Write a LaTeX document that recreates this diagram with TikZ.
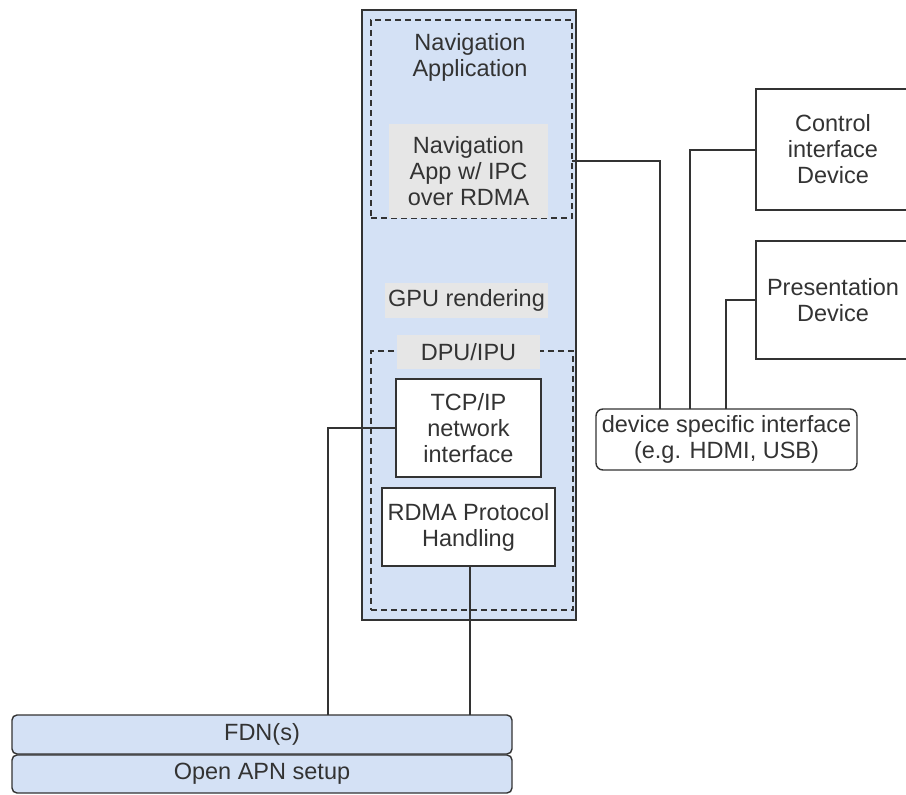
\documentclass[tikz,border=0pt]{standalone}
\usepackage{fontspec}
\setmainfont{Liberation Sans}
\usetikzlibrary{calc}
\definecolor{bluefill}{HTML}{D4E1F5}
\definecolor{grayfill}{HTML}{E6E6E6}
\definecolor{edge}{HTML}{333333}
\definecolor{txt}{HTML}{333333}
\begin{document}
\begin{tikzpicture}[x=1pt,y=-1pt,
  every node/.style={inner sep=0pt, outer sep=0pt, text=txt, align=center,
    font=\fontsize{23.5}{26}\selectfont},
  box/.style={draw=edge, line width=1.4pt, fill=white},
  bluebox/.style={draw=edge, line width=1.4pt, fill=bluefill},
  graybox/.style={fill=grayfill},
  dashbox/.style={draw=edge, line width=1.4pt, dash pattern=on 6pt off 4pt},
  conn/.style={draw=edge, line width=1.4pt}
]
\useasboundingbox (0,0) rectangle (906,795);
% main column
\node[bluebox, minimum width=214pt, minimum height=610pt] (main) at (469,315) {};
\node[dashbox, minimum width=201pt, minimum height=198pt] (navapp) at (471.5,119) {};
\node (navlabel) at (470,57.5) {Navigation\\Application};
\node[graybox, minimum width=159pt, minimum height=94pt] (ipc) at (468.5,171) {Navigation\\App w/ IPC\\over RDMA};
\node[graybox, minimum width=163pt, minimum height=35pt] (gpu) at (466.5,300.5) {GPU rendering};
\node[dashbox, minimum width=202pt, minimum height=259pt] (dpu) at (472,480.5) {};
\node[graybox, minimum width=143pt, minimum height=34pt] (dpulabel) at (468.5,352) {DPU/IPU};
\node[box, minimum width=145pt, minimum height=98pt] (tcp) at (468.5,428) {TCP/IP\\network\\interface};
\node[box, minimum width=173pt, minimum height=78pt] (rdma) at (468.5,527) {RDMA Protocol\\Handling};
% right side
\node[box, minimum width=154pt, minimum height=121pt] (ctrl) at (833,149.5) {Control\\interface\\Device};
\node[box, minimum width=154pt, minimum height=118pt] (pres) at (833,300) {Presentation\\Device};
\node[box, rounded corners=7pt, minimum width=261pt, minimum height=61pt] (dsi) at (726.5,439.5) {device specific interface\\(e.g. HDMI, USB)};
% bottom
\node[bluebox, rounded corners=5pt, minimum width=500pt, minimum height=39pt] (fdn) at (262,734.5) {FDN(s)};
\node[bluebox, rounded corners=5pt, minimum width=500pt, minimum height=38pt] (apn) at (262,774) {Open APN setup};
% connectors
\draw[conn] (navapp.east |- 0,161) -| ([xshift=-66.5pt]dsi.north);
\draw[conn] (ctrl.west |- 0,150) -| ([xshift=-36.5pt]dsi.north);
\draw[conn] (pres.west) -| ([xshift=-0.5pt]dsi.north);
\draw[conn] (tcp.west) -| ([xshift=66pt]fdn.north);
\draw[conn, line width=1.6pt] ([xshift=1.5pt]rdma.south) -- ([xshift=1.5pt]rdma.south |- fdn.north);
\end{tikzpicture}
\end{document}
